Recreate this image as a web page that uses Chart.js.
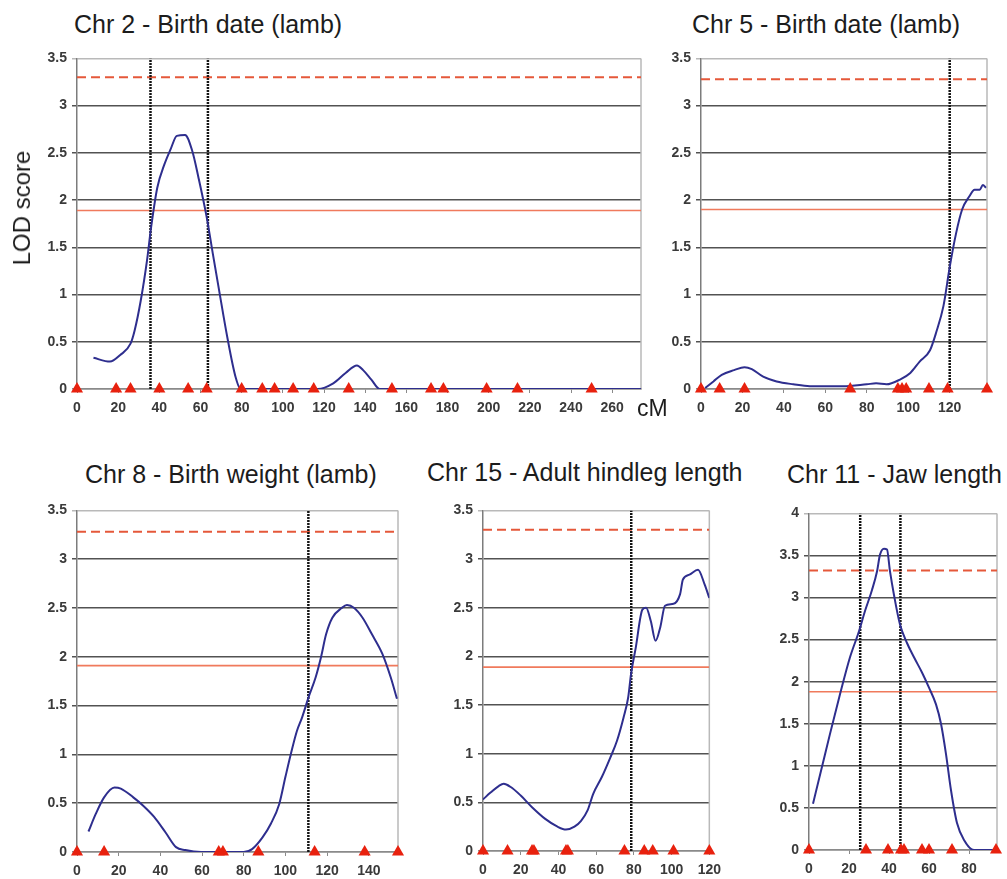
<!DOCTYPE html>
<html>
<head>
<meta charset="utf-8">
<title>LOD score profiles</title>
<script src="https://cdn.jsdelivr.net/npm/chart.js@4.4.1/dist/chart.umd.min.js"></script>
<style>
    html, body {
        margin: 0;
        padding: 0;
        width: 1007px;
        height: 879px;
        overflow: hidden;
        background: #ffffff;
        font-family: "Liberation Sans", Arial, sans-serif;
    }

    canvas {
        position: absolute;
    }

    .label {
        position: absolute;
        white-space: nowrap;
        color: #1c1c1c;
    }

    .panel-title {
        font-size: 25px;
        line-height: 25px;
    }

    .y-title {
        font-size: 24px;
        line-height: 24px;
        transform: translate(-50%, -50%) rotate(-90deg);
    }

    .x-unit {
        font-size: 23px;
        line-height: 23px;
    }
</style>
</head>
<body>

<canvas id="chr2Canvas"></canvas>
<canvas id="chr5Canvas"></canvas>
<canvas id="chr8Canvas"></canvas>
<canvas id="chr15Canvas"></canvas>
<canvas id="chr11Canvas"></canvas>

<div class="label panel-title" style="left:74px; top:12px;">Chr 2 - Birth date (lamb)</div>
<div class="label panel-title" style="left:692px; top:12px;">Chr 5 - Birth date (lamb)</div>
<div class="label panel-title" style="left:85px; top:462px;">Chr 8 - Birth weight (lamb)</div>
<div class="label panel-title" style="left:427px; top:460px;">Chr 15 - Adult hindleg length</div>
<div class="label panel-title" style="left:787px; top:462px;">Chr 11 - Jaw length</div>
<div class="label y-title" style="left:22px; top:208px;">LOD score</div>
<div class="label x-unit" style="left:637px; top:397px;">cM</div>

<script>
// positions along the chromosome (cM) and LOD score of each profile
const chr2Pos = [8, 16, 21, 26, 28, 31, 34, 36, 39, 42.5, 45.5, 48.5, 52.5, 56, 59, 63, 66, 69, 73, 77, 79.5, 117, 124.5, 130.5, 136, 139, 143, 147, 274];
const chr2Lod = [0.33, 0.29, 0.36, 0.48, 0.62, 0.94, 1.36, 1.71, 2.13, 2.38, 2.54, 2.68, 2.69, 2.52, 2.24, 1.82, 1.43, 1.05, 0.55, 0.13, 0, 0, 0.06, 0.17, 0.25, 0.2, 0.1, 0, 0];

const chr5Pos = [2, 6, 10, 16, 21, 24.5, 30, 36.5, 44.5, 52.5, 68.5, 80, 84.5, 89.5, 96, 101, 105.5, 110.5, 113.5, 117, 120, 123, 126, 129.5, 132, 134.5, 136, 137.5];
const chr5Lod = [0.01, 0.08, 0.15, 0.2, 0.23, 0.21, 0.13, 0.08, 0.05, 0.03, 0.03, 0.05, 0.06, 0.05, 0.1, 0.17, 0.29, 0.41, 0.6, 0.88, 1.29, 1.64, 1.9, 2.04, 2.11, 2.11, 2.16, 2.13];

const chr8Pos = [5.5, 9, 13, 18, 21, 27, 31.5, 37, 42.5, 47.5, 52, 59.5, 68, 80, 84, 89, 93, 97, 100, 103, 105.5, 108, 111, 114.5, 117, 119.5, 122.5, 127, 129.5, 133, 137, 141.5, 146.5, 150.5, 153.5];
const chr8Lod = [0.21, 0.39, 0.56, 0.66, 0.65, 0.56, 0.48, 0.36, 0.2, 0.05, 0.02, 0, 0, 0, 0.03, 0.15, 0.29, 0.49, 0.77, 1.04, 1.24, 1.38, 1.58, 1.79, 1.99, 2.23, 2.4, 2.5, 2.53, 2.5, 2.4, 2.23, 2.03, 1.79, 1.57];

const chr15Pos = [0, 4, 8.5, 11, 14.5, 20, 26, 33, 39.5, 44, 48.5, 52, 55.5, 58.5, 63, 67.5, 71, 74.5, 77, 78.5, 81, 84.5, 86.5, 89, 91.5, 94, 96.5, 101, 104.5, 106, 109.5, 114, 117.5, 120];
const chr15Lod = [0.53, 0.6, 0.67, 0.69, 0.66, 0.57, 0.45, 0.33, 0.25, 0.22, 0.25, 0.31, 0.42, 0.59, 0.76, 0.96, 1.13, 1.37, 1.58, 1.82, 2.09, 2.48, 2.5, 2.36, 2.16, 2.3, 2.52, 2.54, 2.64, 2.79, 2.84, 2.89, 2.74, 2.6];

const chr11Pos = [2, 6.5, 10.5, 15.5, 20.5, 25, 28, 31.5, 34, 35.5, 37.5, 39, 40.5, 42.5, 45.5, 49, 52.5, 56.5, 60, 63.5, 66, 68.5, 71, 74, 77.5, 82.5, 94];
const chr11Lod = [0.55, 0.99, 1.38, 1.85, 2.29, 2.6, 2.84, 3.09, 3.31, 3.51, 3.58, 3.57, 3.31, 3.03, 2.68, 2.46, 2.29, 2.11, 1.93, 1.73, 1.5, 1.14, 0.71, 0.32, 0.12, 0, 0];

// marker positions (cM)
const chr2Markers = [0, 19, 26, 40, 54, 63, 80, 90, 96, 105, 115, 132, 153, 172, 178, 199, 214, 250];
const chr5Markers = [0, 9, 21, 72, 95, 97, 99, 110, 119, 138];
const chr8Markers = [0, 13, 68, 70, 87, 114, 138, 154];
const chr15Markers = [0, 13, 26, 27, 44, 45, 75, 85.5, 90, 101, 120];
const chr11Markers = [0, 28.5, 39.5, 46, 47.5, 56.5, 60, 71.5, 93.5];

// confidence interval bounds (cM)
const chr2Interval = [35.7, 63.6];
const chr5Interval = [120];
const chr8Interval = [111];
const chr15Interval = [78.6];
const chr11Interval = [25.6, 45.7];

// significance thresholds, in panel order chr 2, 5, 8, 15, 11
const genomeThresholds = [3.30, 3.28, 3.28, 3.30, 3.32];
const chromosomeThresholds = [1.89, 1.90, 1.91, 1.89, 1.88];

// axis ranges, same order
const xMaxValues = [274, 138, 154, 120, 94];
const yMaxValues = [3.5, 3.5, 3.5, 3.5, 4];

const Y_AXIS_WIDTH = 45;
const X_AXIS_HEIGHT = 40;
const PAD_TOP = 12;
const PAD_RIGHT = 12;

// plot areas in page pixels: left, top, right, bottom
const PLOT_AREAS = [
    [77, 57, 641, 389],
    [701, 57, 987, 389],
    [77, 509, 398, 852],
    [483, 509, 716, 851],
    [809, 512, 997, 850]
];

const TICK_FONT = { family: "'Liberation Sans', Arial, sans-serif", size: 14, weight: "bold" };
const TICK_COLOR = "#3a3a3a";

const frameEdgePlugin = {
    id: "frameEdge",
    beforeDatasetsDraw(chart) {

        const { ctx, chartArea } = chart;

        ctx.save();
        ctx.strokeStyle = "#b9b9b9";
        ctx.lineWidth = 1.5;
        ctx.beginPath();
        ctx.moveTo(chartArea.right, chartArea.top);
        ctx.lineTo(chartArea.right, chartArea.bottom);
        ctx.stroke();
        ctx.restore();
    }
};

function toPoints(xs, ys) {

    return xs.map((x, index) => ({ x, y: ys[index] }));
}

function buildDatasets(pos, lod, markers, interval, genome, chromosome, xMax, yMax) {

    const datasets = [
        {
            data: markers.map((x) => ({ x, y: 0 })),
            showLine: false,
            pointStyle: "triangle",
            pointRadius: 7,
            pointBackgroundColor: "#e8210e",
            pointBorderColor: "#e8210e",
            pointBorderWidth: 0,
            clip: false
        },
        {
            data: toPoints(pos, lod),
            showLine: true,
            borderColor: "#2e2e8e",
            borderWidth: 2,
            pointRadius: 0,
            cubicInterpolationMode: "monotone"
        }
    ];

    interval.forEach((x) => {

        datasets.push({
            data: [{ x, y: 0 }, { x, y: yMax }],
            showLine: true,
            borderColor: "#141414",
            borderWidth: 2.5,
            borderDash: [2, 1],
            pointRadius: 0,
            tension: 0
        });
    });

    datasets.push({
        data: [{ x: 0, y: genome }, { x: xMax, y: genome }],
        showLine: true,
        borderColor: "#e5583a",
        borderWidth: 2,
        borderDash: [9, 5],
        pointRadius: 0,
        tension: 0
    });

    datasets.push({
        data: [{ x: 0, y: chromosome }, { x: xMax, y: chromosome }],
        showLine: true,
        borderColor: "#f07a5c",
        borderWidth: 1.6,
        pointRadius: 0,
        tension: 0
    });

    return datasets;
}

function buildPanelConfig(datasets, xMax, yMax) {

    return {
        type: "scatter",
        data: { datasets },
        options: {
            responsive: false,
            animation: false,
            layout: {
                padding: { top: PAD_TOP, right: PAD_RIGHT, left: 0, bottom: 0 }
            },
            plugins: {
                legend: { display: false },
                tooltip: { enabled: false }
            },
            scales: {
                x: {
                    type: "linear",
                    min: 0,
                    max: xMax,
                    afterFit: (scale) => {
                        scale.height = X_AXIS_HEIGHT;
                    },
                    ticks: {
                        stepSize: 20,
                        includeBounds: false,
                        autoSkip: false,
                        maxRotation: 0,
                        padding: 7,
                        font: TICK_FONT,
                        color: TICK_COLOR,
                        callback: (value) => value
                    },
                    grid: {
                        drawOnChartArea: false,
                        drawTicks: true,
                        tickLength: 4,
                        color: "#8a8a8a"
                    },
                    border: {
                        color: "#8a8a8a",
                        width: 1.5
                    }
                },
                y: {
                    min: 0,
                    max: yMax,
                    afterFit: (scale) => {
                        scale.width = Y_AXIS_WIDTH;
                    },
                    ticks: {
                        stepSize: 0.5,
                        padding: 5,
                        font: TICK_FONT,
                        color: TICK_COLOR,
                        callback: (value) => value
                    },
                    grid: {
                        tickLength: 5,
                        lineWidth: 1.5,
                        color: (context) => {

                            if (context.tick && context.tick.value === yMax) {
                                return "#b9b9b9";
                            }

                            if (context.tick && context.tick.value === 0) {
                                return "#8a8a8a";
                            }

                            return "#525252";
                        }
                    },
                    border: {
                        color: "#7c7c7c",
                        width: 1.5
                    }
                }
            }
        },
        plugins: [frameEdgePlugin]
    };
}

function drawPanel(canvasId, index, pos, lod, markers, interval) {

    const canvas = document.getElementById(canvasId);
    const [left, top, right, bottom] = PLOT_AREAS[index];
    const xMax = xMaxValues[index];
    const yMax = yMaxValues[index];

    canvas.width = right - left + Y_AXIS_WIDTH + PAD_RIGHT;
    canvas.height = bottom - top + PAD_TOP + X_AXIS_HEIGHT;
    canvas.style.left = (left - Y_AXIS_WIDTH) + "px";
    canvas.style.top = (top - PAD_TOP) + "px";

    const datasets = buildDatasets(
        pos,
        lod,
        markers,
        interval,
        genomeThresholds[index],
        chromosomeThresholds[index],
        xMax,
        yMax
    );

    new Chart(canvas.getContext("2d"), buildPanelConfig(datasets, xMax, yMax));
}

drawPanel("chr2Canvas", 0, chr2Pos, chr2Lod, chr2Markers, chr2Interval);
drawPanel("chr5Canvas", 1, chr5Pos, chr5Lod, chr5Markers, chr5Interval);
drawPanel("chr8Canvas", 2, chr8Pos, chr8Lod, chr8Markers, chr8Interval);
drawPanel("chr15Canvas", 3, chr15Pos, chr15Lod, chr15Markers, chr15Interval);
drawPanel("chr11Canvas", 4, chr11Pos, chr11Lod, chr11Markers, chr11Interval);
</script>
</body>
</html>
